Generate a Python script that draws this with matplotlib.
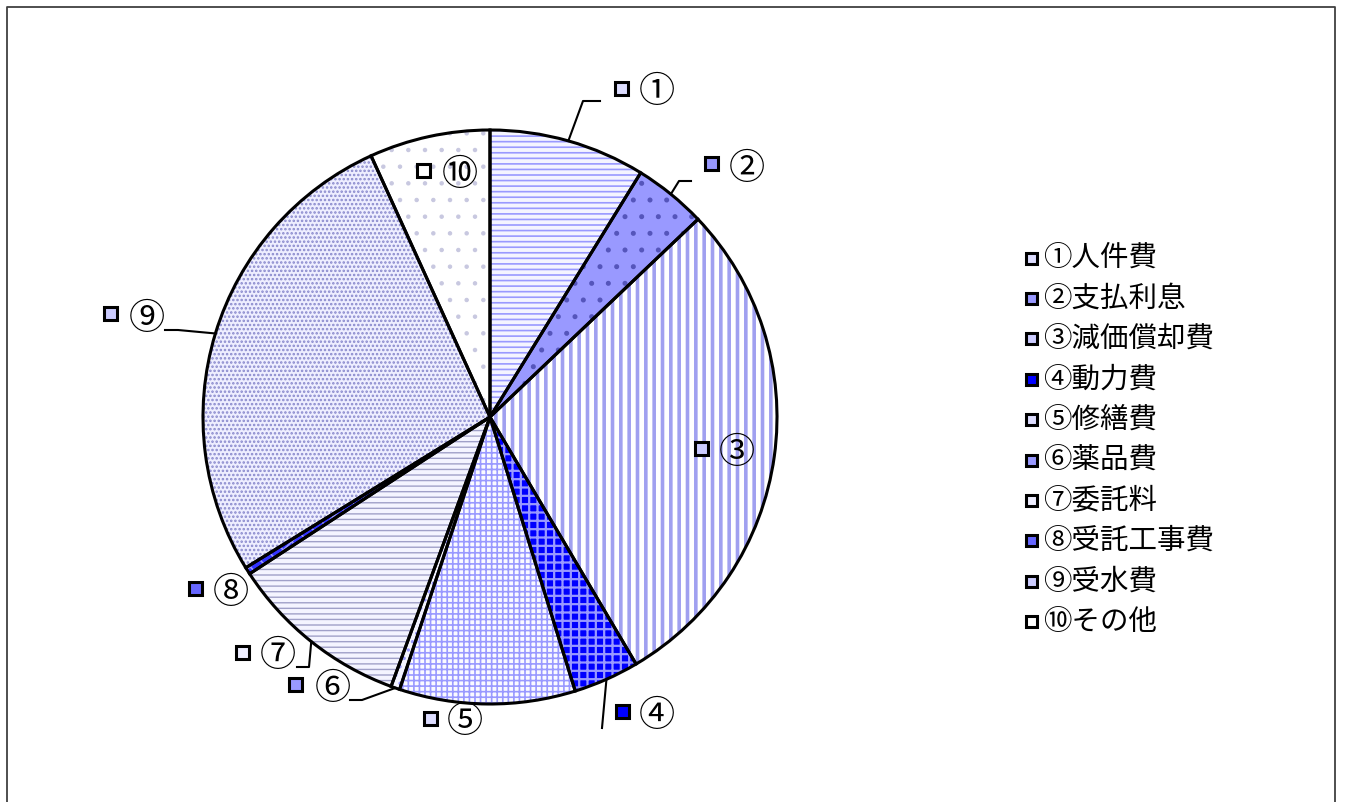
import numpy as np
import matplotlib
matplotlib.use("Agg")
import matplotlib.pyplot as plt
from matplotlib.patches import Rectangle

plt.rcParams['font.family'] = ['Noto Sans CJK JP', 'DejaVu Sans']
plt.rcParams['hatch.linewidth'] = 1.2

# ---- data ----
categories = ['人件費', '支払利息', '減価償却費', '動力費', '修繕費',
              '薬品費', '委託料', '受託工事費', '受水費', 'その他']
numbers = ['①', '②', '③', '④', '⑤', '⑥', '⑦', '⑧', '⑨', '⑩']
values = [8.8, 4.1, 28.6, 3.7, 9.9, 0.5, 10.2, 0.4, 27.0, 6.8]

# ---- styles ----
face_colors = ['#F4F4FF', '#9999FF', '#FFFFFF', '#0000FF', '#FAFAFF',
               '#F4F4FF', '#F4F4FF', '#3333FF', '#EEEEFF', '#FFFFFF']
hatch_colors = ['#9999FF', '#5555BB', '#A0A0F0', '#9999FF', '#9999FF',
                '#9999FF', '#A0A0C8', '#9999FF', '#8888CC', '#C8C8E0']
hatches = ['---', '.', '||', '++', '+++', '..', '---', 'xx', '....', '.']
hatch_lw = [1.2, 1.2, 2.6, 1.6, 1.2, 1.2, 1.0, 1.2, 1.2, 0.8]
marker_colors = ['#DDDDFF', '#9999FF', '#CCCCFF', '#0000FF', '#DDDDFF',
                 '#9999FF', '#EEEEFF', '#6666FF', '#CCCCFF', '#FFFFFF']

W, H = 1345, 802
fig = plt.figure(figsize=(W / 100, H / 100), dpi=100)
ax = fig.add_axes([0, 0, 1, 1])

def Y(y):
    return H - y

cx, cy, R = 490, 417, 287

wedges, _ = ax.pie(values, startangle=90, counterclock=False,
                   center=(cx, Y(cy)), radius=R,
                   colors=face_colors,
                   wedgeprops=dict(linewidth=0))
for w, hc, hp, hl in zip(wedges, hatch_colors, hatches, hatch_lw):
    w.set_edgecolor(hc)
    w.set_linewidth(0)
    w.set_hatch(hp)
    if hasattr(w, 'set_hatch_linewidth'):
        w.set_hatch_linewidth(hl)
    else:
        w._hatch_linewidth = hl

ax.pie(values, startangle=90, counterclock=False,
       center=(cx, Y(cy)), radius=R,
       wedgeprops=dict(fill=False, edgecolor='black', linewidth=2.2))

ax.set_xlim(0, W)
ax.set_ylim(0, H)
ax.set_aspect('equal')
ax.axis('off')

# ---- data labels ----
label_marker = [(621, 88), (711, 163), (701, 448), (622, 711), (430, 718),
                (295, 684), (242, 652), (195, 588), (110, 313), (423, 170)]
label_text = [(657, 92), (747, 169), (737, 453), (657, 716), (465, 722),
              (333, 689), (278, 656), (231, 593), (147, 319), (460, 175)]

for i in range(len(values)):
    mx, my = label_marker[i]
    ax.add_patch(Rectangle((mx - 6.5, Y(my) - 6.5), 13, 13,
                           facecolor=marker_colors[i], edgecolor='black',
                           linewidth=2.2, zorder=5))
    tx, ty = label_text[i]
    ax.text(tx, Y(ty), numbers[i], fontsize=26, ha='center', va='center',
            color='black', zorder=5)

# leader lines, starting at the mid-angle of each wedge on the rim
def rim(i):
    w = wedges[i]
    ang = np.deg2rad((w.theta1 + w.theta2) / 2)
    return cx + R * np.cos(ang), Y(cy) + R * np.sin(ang)

leaders = {
    0: [(583, 101), (600, 101)],
    1: [(679, 181), (691, 181)],
    3: [(602, 728)],
    5: [(362, 700), (350, 700)],
    6: [(309, 667), (297, 667)],
    8: [(178, 330), (165, 330)],
}
for i, pts in leaders.items():
    x0, y0 = rim(i)
    xs = [x0] + [p[0] for p in pts]
    ys = [y0] + [Y(p[1]) for p in pts]
    ax.plot(xs, ys, color='black', linewidth=1.5, zorder=4)

# ---- legend ----
leg_x, leg_y0, leg_dy = 1031, 258, 40.4
for i, name in enumerate(categories):
    y = leg_y0 + i * leg_dy
    ax.add_patch(Rectangle((leg_x - 5.5, Y(y) - 5.5), 11, 11,
                           facecolor=marker_colors[i], edgecolor='black',
                           linewidth=2.2, zorder=5))
    ax.text(leg_x + 12, Y(y), numbers[i] + name, fontsize=20.5,
            ha='left', va='center', color='black')

# ---- frame ----
ax.plot([7, 7, 1335, 1335], [0, Y(7), Y(7), 0], color='#404040',
        linewidth=1.3, clip_on=False)

fig.savefig('out.png', dpi=100)
